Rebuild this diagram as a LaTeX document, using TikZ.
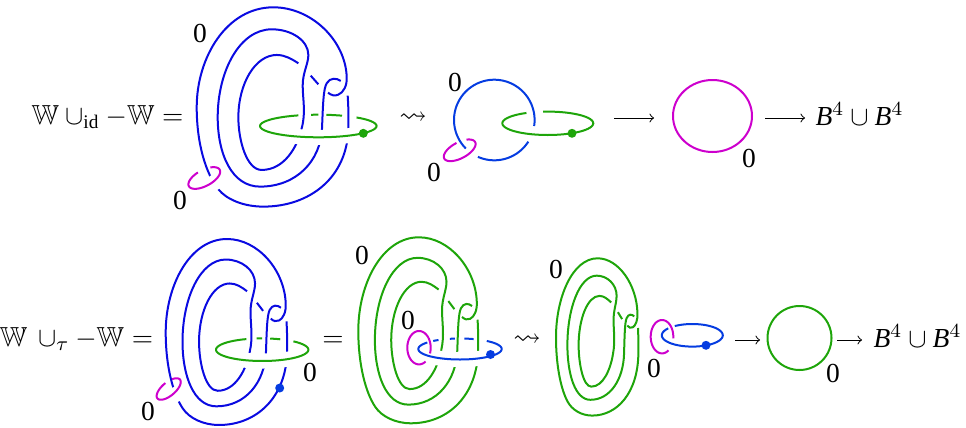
\documentclass[tikz,border=0pt]{standalone}
\usepackage{amsmath,amssymb}
\usepackage{fontspec}
\setmainfont{Liberation Serif}
\usetikzlibrary{shapes.geometric}
\definecolor{knotblue}{RGB}{10,10,225}
\definecolor{ringblue}{RGB}{5,60,225}
\definecolor{knotgreen}{RGB}{30,165,10}
\definecolor{ringpurple}{RGB}{205,0,205}
\tikzset{
  knotline/.style={line width=0.8pt},
  gapline/.style={white,line width=3pt},
  ringgap/.style={white,line width=6pt},
  dotmark/.style={circle,inner sep=0pt,minimum size=3.6pt},
  mathto/.style={-to,line width=0.4pt},
  every node/.style={font=\fontsize{11}{13}\selectfont}
}
% strands of the big knot
\newcommand{\knotbody}[1]{
  \draw[knotline,#1] (394,256) .. controls (403,264) and (415,267) .. (425,262)
    .. controls (440,256) and (452,235) .. (450,208)
    .. controls (446,100) and (345,0) .. (230,0)
    .. controls (90,0) and (0,150) .. (0,300)
    .. controls (0,410) and (28,500) .. (65,546)
    .. controls (89,576) and (140,598) .. (200,598)
    .. controls (340,598) and (452,510) .. (455,363)
    .. controls (456,330) and (455,295) .. (453,265);
  \draw[knotline,#1] (432,221) .. controls (420,212) and (400,210) .. (390,228)
    .. controls (380,245) and (379,290) .. (376,363)
    .. controls (372,460) and (300,538) .. (190,538)
    .. controls (105,538) and (63,440) .. (63,330)
    .. controls (63,190) and (130,66) .. (225,66)
    .. controls (285,66) and (335,100) .. (335,143)
    .. controls (335,170) and (318,195) .. (318,235)
    .. controls (318,275) and (328,315) .. (315,363)
    .. controls (302,420) and (262,488) .. (195,488)
    .. controls (150,488) and (125,400) .. (125,330)
    .. controls (125,230) and (175,143) .. (240,143)
    .. controls (265,143) and (285,155) .. (305,168);
  \draw[knotline,#1] (342,205) -- (365,231);
}
% piece of an ellipse: center, radii, angles
\newcommand{\ringarc}[7][]{
  \draw[knotline,#1] plot[domain=#6:#7,samples=50,smooth,tension=0.35] ({#2+#4*cos(\x)},{#3-#5*sin(\x)});
}
\begin{document}
\begin{tikzpicture}[x=0.4pt,y=-0.4pt]
  \useasboundingbox (0,0) rectangle (966,427);

  % top row
  \node[anchor=base] (lhsA) at (107.5,124) {$\mathbb{W}\cup_{\mathrm{id}}{-}\mathbb{W}=$};
  \begin{scope}[shift={(196.7,7.3)},xscale=0.3333,yscale=0.3333]
    \knotbody{knotblue}
    \draw[gapline] (38,508) -- (65,546);
  \end{scope}
  \ringarc[ringgap]{318.3}{126}{58.3}{11.3}{220}{330}
  \ringarc[knotgreen]{318.3}{126}{58.3}{11.3}{110}{409}
  \ringarc[knotgreen]{318.3}{126}{58.3}{11.3}{90}{97}
  \ringarc[knotgreen]{318.3}{126}{58.3}{11.3}{66}{82}
  \node[dotmark,fill=knotgreen] (dotA) at (363.3,133.3) {};
  \ringarc[ringpurple,rotate around={28:(204.3,178)}]{204.3}{178}{17.5}{8}{100}{414}

  \node (sqA) at (413,118) {$\rightsquigarrow$};
  \ringarc[ringblue]{494.3}{120}{40.3}{40.3}{-8.6}{225}
  \ringarc[ringblue]{494.3}{120}{40.3}{40.3}{246}{327.5}
  \ringarc[knotgreen]{547.8}{123.3}{45.5}{11.7}{118}{456}
  \node[dotmark,fill=knotgreen] (dotB) at (572,133.3) {};
  \ringarc[ringpurple,rotate around={28:(459.7,150.3)}]{459.7}{150.3}{17.5}{8}{88}{411}

  \node[draw=ringpurple,knotline,ellipse,inner sep=0pt,minimum width=31.6pt,minimum height=28.8pt] (circA) at (712.5,116) {};
  \node[anchor=base] (ballsA) at (859.5,125) {$\mathit{B}^{4}\cup\mathit{B}^{4}$};

  % bottom row
  \node[anchor=base] (lhsB) at (76.5,346) {$\mathbb{W}\,\cup_{\tau}{-}\mathbb{W}=$};
  \begin{scope}[shift={(165.7,239)},xscale=0.2667,yscale=0.311]
    \knotbody{knotblue}
    \draw[gapline] (25,478) -- (47,523);
  \end{scope}
  \ringarc[ringgap]{262.2}{349.7}{46.2}{11.3}{220}{330}
  \ringarc[knotgreen]{262.2}{349.7}{46.2}{11.3}{110}{407.5}
  \ringarc[knotgreen]{262.2}{349.7}{46.2}{11.3}{90}{97}
  \ringarc[knotgreen]{262.2}{349.7}{46.2}{11.3}{67}{80}
  \node[dotmark,fill=ringblue] (dotC) at (279.7,388) {};
  \ringarc[ringpurple,rotate around={40:(168.7,389)}]{168.7}{389}{14.7}{6.7}{85}{413.5}

  \node[anchor=base] (eqB) at (333,346) {$=$};
  \begin{scope}[shift={(358.3,237.3)},xscale=0.2633,yscale=0.311]
    \knotbody{knotgreen}
  \end{scope}
  \ringarc[ringgap]{460}{349}{41.7}{10.5}{220}{330}
  \ringarc[ringblue]{460}{349}{41.7}{10.5}{141.6}{410}
  \ringarc[ringblue]{460}{349}{41.7}{10.5}{121}{130}
  \ringarc[ringblue]{460}{349}{41.7}{10.5}{97}{104}
  \ringarc[ringblue]{460}{349}{41.7}{10.5}{71}{84}
  \node[dotmark,fill=ringblue] (dotD) at (490.5,354.5) {};
  \ringarc[ringpurple]{419}{347.7}{11.7}{16.7}{-20}{304}

  \node (sqB) at (527,340) {$\rightsquigarrow$};
  \begin{scope}[shift={(556,258.3)},xscale=0.181,yscale=0.263]
    \knotbody{knotgreen}
  \end{scope}
  \ringarc[ringblue]{692.3}{335.3}{30.5}{11.3}{142}{485}
  \node[dotmark,fill=ringblue] (dotE) at (706,345.3) {};
  \ringarc[ringpurple]{662}{336.7}{11.3}{16.7}{-6}{305}

  \node[draw=knotgreen,knotline,circle,inner sep=0pt,minimum size=25.6pt] (circB) at (799.5,338) {};
  \node[anchor=base] (ballsB) at (917.5,347) {$\mathit{B}^{4}\cup\mathit{B}^{4}$};

  % the framings
  \foreach \n/\x/\y in {a/200/33, b/180/200, c/455/82, d/434/172, e/749/158, f/148/411, g/310/372, h/362/255, i/408/320, j/556/269, k/654/368, l/833/373}{
    \node (zero\n) at (\x,\y) {0};
  }
  % the maps
  \foreach \n/\xa/\xb/\y in {p/614/654/118, q/765/805/118, r/735/760/340, s/837/862/340}{
    \coordinate (\n s) at (\xa,\y);
    \coordinate (\n e) at (\xb,\y);
    \draw[mathto] (\n s) -- (\n e);
  }
\end{tikzpicture}
\end{document}
